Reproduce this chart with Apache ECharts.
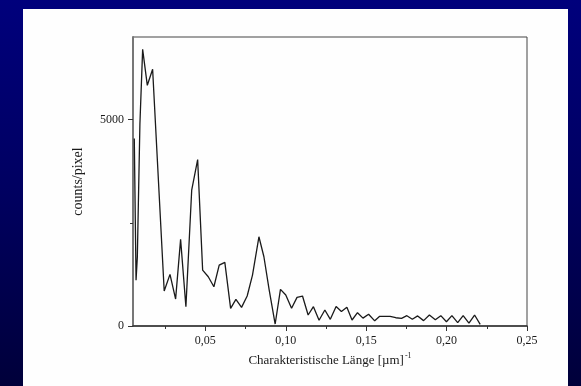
<!DOCTYPE html>
<html>
<head>
<meta charset="utf-8">
<script src="https://cdn.jsdelivr.net/npm/echarts@6/dist/echarts.min.js"></script>
<style>
html,body{margin:0;padding:0;}
#chart{width:581px;height:386px;background:linear-gradient(to bottom,#00007c 0%,#000060 50%,#00003a 100%);}
</style>
</head>
<body>
<div id="chart"></div>
<script>
// Data
const xValues = [0.0058,0.0069,0.0077,0.0081,0.0093,0.0110,0.0139,0.0172,0.0244,0.0280,0.0315,0.0346,0.0379,0.0415,0.0452,0.0483,0.0518,0.0553,0.0586,0.0621,0.0657,0.0690,0.0725,0.0760,0.0793,0.0833,0.0864,0.0897,0.0934,0.0967,0.1000,0.1036,0.1070,0.1104,0.1139,0.1172,0.1207,0.1243,0.1277,0.1313,0.1346,0.1380,0.1412,0.1446,0.1480,0.1515,0.1553,0.1584,0.1615,0.1649,0.1684,0.1720,0.1753,0.1787,0.1820,0.1857,0.1893,0.1930,0.1964,0.1999,0.2033,0.2069,0.2103,0.2139,0.2174,0.2209];
const counts = [4540,1110,1670,2490,4900,6700,5830,6217,847,1250,653,2097,467,3290,4030,1355,1193,951,1475,1541,428,646,452,726,1234,2161,1677,871,48,887,750,428,694,726,266,467,140,387,162,470,350,452,145,322,190,285,125,235,235,235,200,186,250,165,245,130,266,150,250,104,250,80,250,70,266,40];
const xLabelValues = [0.05,0.10,0.15,0.20,0.25];
const xMinorTicks = [0.025,0.075,0.125,0.175,0.225];
const yLabelValues = [0,5000];
const yMinorTicks = [2500];
const xTitle = 'Charakteristische Länge [µm]';
const yTitle = 'counts/pixel';

const chart = echarts.init(document.getElementById('chart'), null, {renderer:'canvas'});
const font = 'Liberation Serif';
const gridPos = {left:133, right:54, top:37, bottom:60};
const option = {
  animation:false,
  graphic:[{type:'rect', z:-10, shape:{x:23,y:9,width:545,height:380}, style:{fill:'#fefefe'}}],
  grid:[
    Object.assign({show:true, borderColor:'#444', borderWidth:1, backgroundColor:'transparent', outerBoundsMode:'none'}, gridPos),
    Object.assign({show:false, outerBoundsMode:'none'}, gridPos)
  ],
  xAxis:[{
    type:'value', gridIndex:0, min:0.005, max:0.25,
    axisLine:{show:true, onZero:false, lineStyle:{color:'#333', width:1.5}},
    axisTick:{show:true, inside:false, length:5, customValues:xLabelValues, lineStyle:{color:'#333'}},
    axisLabel:{show:true, customValues:xLabelValues, margin:9, color:'#1a1a1a', fontFamily:font, fontSize:12,
      formatter:v=>v.toFixed(2).replace('.',',')},
    splitLine:{show:false},
    name: xTitle + '{sup|-1}', nameLocation:'middle', nameGap:24,
    nameTextStyle:{color:'#1a1a1a', fontFamily:font, fontSize:13,
      rich:{sup:{fontSize:8, fontFamily:font, color:'#1a1a1a', verticalAlign:'top', padding:[0,0,9,1]}}}
  },{
    type:'value', gridIndex:1, min:0.005, max:0.25,
    axisLine:{show:false}, axisLabel:{show:false}, splitLine:{show:false},
    axisTick:{show:true, length:3, customValues:xMinorTicks, lineStyle:{color:'#333'}}
  }],
  yAxis:[{
    type:'value', gridIndex:0, min:0, max:7000,
    axisLine:{show:true, onZero:false, lineStyle:{color:'#777', width:2}},
    axisTick:{show:true, inside:false, length:5, customValues:yLabelValues, lineStyle:{color:'#333'}},
    axisLabel:{show:true, customValues:yLabelValues, margin:9, color:'#1a1a1a', fontFamily:font, fontSize:12,
      formatter:v=>String(v)},
    splitLine:{show:false},
    name: yTitle, nameLocation:'middle', nameGap:48, nameRotate:90,
    nameTextStyle:{color:'#1a1a1a', fontFamily:font, fontSize:14}
  },{
    type:'value', gridIndex:1, min:0, max:7000,
    axisLine:{show:false}, axisLabel:{show:false}, splitLine:{show:false},
    axisTick:{show:true, length:3, customValues:yMinorTicks, lineStyle:{color:'#333'}}
  }],
  series:[{
    type:'line', xAxisIndex:0, yAxisIndex:0, symbol:'none', smooth:false,
    lineStyle:{color:'#1a1a1a', width:1.3},
    data: xValues.map((x,i)=>[x, counts[i]])
  }]
};
chart.setOption(option);
</script>
</body>
</html>
